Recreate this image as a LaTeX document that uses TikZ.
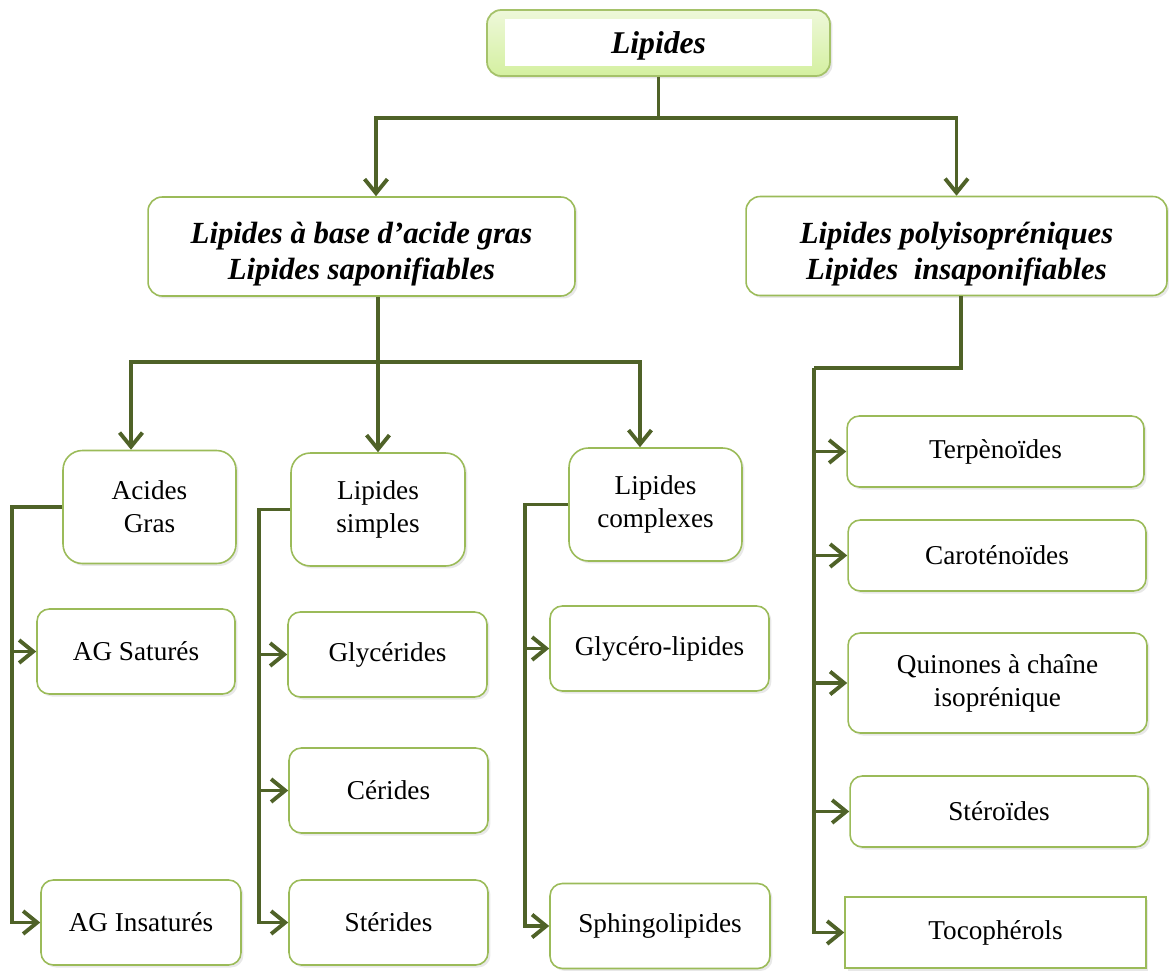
\documentclass[tikz,border=0pt]{standalone}
\usepackage{fontspec}
\setmainfont{Liberation Serif}
\usepackage{tikz}
\usetikzlibrary{positioning,arrows.meta,shadows}

\definecolor{linecol}{RGB}{79,98,40}
\definecolor{boxcol}{RGB}{155,187,89}
\definecolor{topA}{RGB}{238,248,218}
\definecolor{topB}{RGB}{212,240,160}

\begin{document}
\begin{tikzpicture}[
    x=0.02cm, y=-0.02cm,
    box/.style={rectangle, draw=boxcol, line width=0.9pt, fill=white, rounded corners=7pt, align=center,
        font=\fontsize{15.5}{18.7}\selectfont,
        drop shadow={opacity=0.18, shadow xshift=0.05cm, shadow yshift=-0.05cm}},
    midbox/.style={box, rounded corners=11pt, minimum width=3.46cm, minimum height=2.26cm},
    leaf/.style={box, minimum height=1.7cm},
    head/.style={box, rounded corners=8pt, minimum height=1.98cm, font=\fontsize{17.5}{20.4}\selectfont\bfseries\itshape},
    conn/.style={draw=linecol, line width=2.2pt},
    arrow/.style={conn, -{Straight Barb[length=8pt, width=13pt, line width=2.2pt]}}
]
    \useasboundingbox (0,0) rectangle (1169,970);

    % root
    \node[rectangle, draw=boxcol!90, line width=1pt, rounded corners=8pt, top color=topA, bottom color=topB,
        minimum width=6.86cm, minimum height=1.32cm,
        drop shadow={opacity=0.2, shadow xshift=0.05cm, shadow yshift=-0.05cm}] (lipides) at (658.5,43) {};
    \node[rectangle, fill=white, minimum width=6.14cm, minimum height=0.82cm,
        font=\fontsize{18}{21}\selectfont\bfseries\itshape] (lipidesTxt) at (658.5,42.5) {\rule{0pt}{16pt}Lipides};

    % two families
    \node[head, minimum width=8.54cm] (base) at (361.5,246.5) {\rule{0pt}{21pt}Lipides à base d’acide gras\\Lipides saponifiables};
    \node[head, minimum width=8.42cm] (poly) at (956.5,246) {\rule{0pt}{21pt}Lipides polyisopréniques\\Lipides\ \ insaponifiables};

    % saponifiable groups
    \node[midbox] (ag) at (149.5,507) {Acides\\Gras};
    \node[midbox, minimum width=3.48cm] (simples) at (378,509.5) {Lipides\\simples};
    \node[midbox] (complexes) at (655.5,504.5) {Lipides\\complexes};

    \node[leaf, minimum width=3.96cm] (agSat) at (136,651.5) {AG Saturés};
    \node[leaf, minimum width=4cm] (agInsat) at (141,922.5) {AG Insaturés};
    \node[leaf, minimum width=3.98cm] (glycerides) at (387.5,654.5) {Glycérides};
    \node[leaf, minimum width=3.98cm] (cerides) at (388.5,790.5) {Cérides};
    \node[leaf, minimum width=3.98cm] (sterides) at (388.5,922.5) {Stérides};
    \node[leaf, minimum width=4.38cm] (glycero) at (659.5,648.5) {Glycéro-lipides};
    \node[leaf, minimum width=4.4cm] (sphingo) at (660,926) {Sphingolipides};

    % insaponifiable groups
    \node[leaf, minimum width=5.94cm, minimum height=1.42cm] (terpen) at (995.5,451.5) {Terpènoïdes};
    \node[leaf, minimum width=5.96cm, minimum height=1.42cm] (caroten) at (997,555.5) {Caroténoïdes};
    \node[leaf, minimum width=5.98cm, minimum height=2cm] (quinon) at (997.5,683) {Quinones à chaîne\\isoprénique};
    \node[leaf, minimum width=5.96cm, minimum height=1.42cm] (steroid) at (999,811.5) {Stéroïdes};
    \node[leaf, rounded corners=0pt, minimum width=6.02cm, minimum height=1.42cm] (tocoph) at (995.5,932.5) {Tocophérols};

    \coordinate (splitTop) at (658.5,118);
    \coordinate (splitBase) at (378,362);
    \coordinate (railPoly) at (814,368);

    \draw[conn] (lipides) -- (splitTop);
    \draw[arrow] (splitTop) -| ([xshift=0.29cm]base.north);
    \draw[arrow] (splitTop) -| (poly.north);

    \draw[conn] (base.south -| splitBase) -- (splitBase);
    \draw[arrow] (splitBase) -| ([xshift=-0.37cm]ag.north);
    \draw[arrow] (splitBase) -- (simples.north);
    \draw[arrow] (splitBase) -| ([xshift=-0.31cm]complexes.north);

    \draw[arrow] (ag.west) -- ++(-1cm,0) |- (agSat.west);
    \draw[arrow] (ag.west) -- ++(-1cm,0) |- (agInsat.west);

    \draw[arrow] (simples.west) -- ++(-0.62cm,0) |- (glycerides.west);
    \draw[arrow] (simples.west) -- ++(-0.62cm,0) |- (cerides.west);
    \draw[arrow] (simples.west) -- ++(-0.62cm,0) |- (sterides.west);

    \draw[arrow] (complexes.west) -- ++(-0.86cm,0) |- (glycero.west);
    \draw[arrow] (complexes.west) -- ++(-0.86cm,0) |- (sphingo.west);

    \draw[conn] ([xshift=0.09cm]poly.south) |- (railPoly);
    \draw[arrow] (railPoly) |- (terpen.west);
    \draw[arrow] (railPoly) |- (caroten.west);
    \draw[arrow] (railPoly) |- (quinon.west);
    \draw[arrow] (railPoly) |- (steroid.west);
    \draw[arrow] (railPoly) |- (tocoph.west);
\end{tikzpicture}
\end{document}
